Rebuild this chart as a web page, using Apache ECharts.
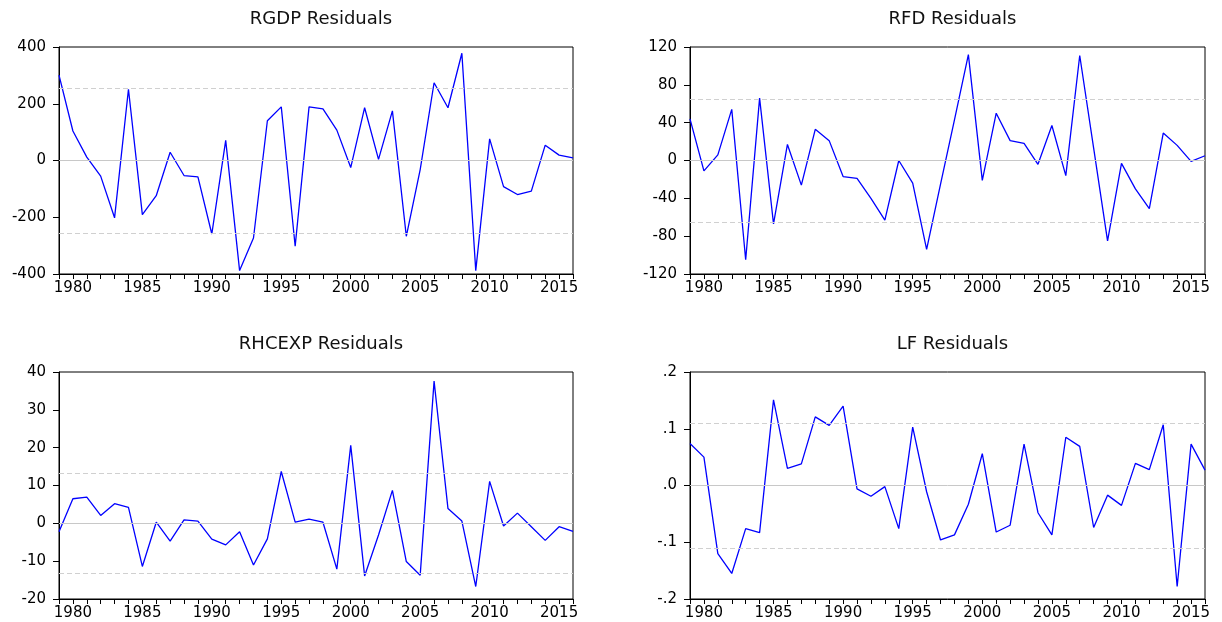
<!DOCTYPE html>
<html>
<head>
<meta charset="utf-8">
<script src="https://cdn.jsdelivr.net/npm/echarts@6/dist/echarts.min.js"></script>
<style>
  html, body { margin: 0; padding: 0; background: #fff; }
  #main { width: 1222px; height: 622px; }
</style>
</head>
<body>
<div id="main"></div>
<script>
// years 1979..2016
var years = [];
for (var y = 1979; y <= 2016; y++) years.push(String(y));

var rgdp = [301, 104, 12, -55, -202, 251, -191, -124, 29, -53, -58, -259, 71, -388, -273, 140, 189,
  -302, 189, 182, 107, -25, 186, 4, 175, -267, -32, 274, 186, 378, -388, 76, -92, -120, -108, 54, 19, 9];
var rfd = [44, -11, 6, 54, -105, 66, -67, 17, -26, 33, 21, -17, -19, -40, -63, 0, -24,
  -94, -25, 43, 112, -21, 50, 21, 18, -4, 37, -16, 111, 13, -85, -3, -30, -51, 29, 16, -1, 5];
var rhcexp = [-2.2, 6.5, 6.9, 2.1, 5.2, 4.2, -11.4, 0.3, -4.7, 0.9, 0.6, -4.2, -5.7, -2.2, -11, -4.1, 13.7,
  0.3, 1.1, 0.3, -12.1, 20.6, -13.9, -3.1, 8.7, -10.1, -13.7, 37.6, 3.9, 0.6, -16.7, 11.1, -0.7, 2.7, -0.9, -4.5, -0.9, -2.1];
var lf = [0.074, 0.050, -0.120, -0.155, -0.076, -0.083, 0.151, 0.030, 0.038, 0.121, 0.106, 0.140, -0.006, -0.019, -0.002, -0.076, 0.103,
  -0.011, -0.096, -0.087, -0.033, 0.056, -0.082, -0.070, 0.073, -0.048, -0.087, 0.085, 0.069, -0.074, -0.017, -0.035, 0.039, 0.028, 0.107, -0.178, 0.073, 0.027];

// standard error bands (dashed lines)
var bands = [256, 65, 13.2, 0.112];
var titles = ['RGDP Residuals', 'RFD Residuals', 'RHCEXP Residuals', 'LF Residuals'];
var seriesData = [rgdp, rfd, rhcexp, lf];
var yRanges = [[-400, 400, 200], [-120, 120, 40], [-20, 40, 10], [-0.2, 0.2, 0.1]];

var font = 'DejaVu Sans';
var grids = [
  { left: 59, top: 47, width: 514, height: 227 },
  { left: 690, top: 47, width: 515, height: 227 },
  { left: 59, top: 372, width: 514, height: 227 },
  { left: 690, top: 372, width: 515, height: 227 }
];

var myChart = echarts.init(document.getElementById('main'));
var option = {
  backgroundColor: '#fff',
  animation: false,
  title: [],
  grid: [],
  xAxis: [],
  yAxis: [],
  series: []
};

grids.forEach(function (g, i) {
  option.grid.push({
    left: g.left, top: g.top, width: g.width, height: g.height,
    show: true, borderColor: '#000', borderWidth: 1, backgroundColor: 'transparent'
  });
  option.title.push({
    text: titles[i],
    left: g.left + g.width / 2,
    textAlign: 'center',
    top: g.top - 42,
    textStyle: { fontFamily: font, fontSize: 18, fontWeight: 'normal', color: '#111' }
  });
  option.xAxis.push({
    type: 'category', gridIndex: i, data: years, boundaryGap: false,
    axisLine: { onZero: false, lineStyle: { color: '#000', width: 1 } },
    axisTick: { show: true, interval: 0, length: 5, lineStyle: { color: '#000' } },
    axisLabel: {
      interval: function (idx, val) { return Number(val) % 5 === 0; },
      margin: 7, fontFamily: font, fontSize: 15, color: '#000'
    },
    splitLine: { show: false }
  });
  var r = yRanges[i];
  option.yAxis.push({
    type: 'value', gridIndex: i, min: r[0], max: r[1], interval: r[2],
    axisLine: { show: true, lineStyle: { color: '#000', width: 1 } },
    axisTick: { show: true, length: 6, lineStyle: { color: '#000' } },
    axisLabel: {
      margin: 13, fontFamily: font, fontSize: 15, color: '#000',
      formatter: i === 3 ? function (v) {
        var s = (Math.round(v * 10) / 10).toFixed(1);
        return s.replace('0.', '.');
      } : function (v) { return String(Math.round(v)); }
    },
    splitLine: { show: false }
  });
  option.series.push({
    type: 'line', xAxisIndex: i, yAxisIndex: i, data: seriesData[i],
    showSymbol: false, symbol: 'none',
    lineStyle: { color: '#0000ff', width: 1.3 },
    z: 3,
    markLine: {
      silent: true, symbol: 'none', label: { show: false },
      data: [
        { yAxis: 0, lineStyle: { color: '#c8c8c8', type: 'solid', width: 1 } },
        { yAxis: bands[i], lineStyle: { color: '#d0d0d0', type: [5, 3], width: 1 } },
        { yAxis: -bands[i], lineStyle: { color: '#d0d0d0', type: [5, 3], width: 1 } }
      ]
    }
  });
});

myChart.setOption(option);
</script>
</body>
</html>
